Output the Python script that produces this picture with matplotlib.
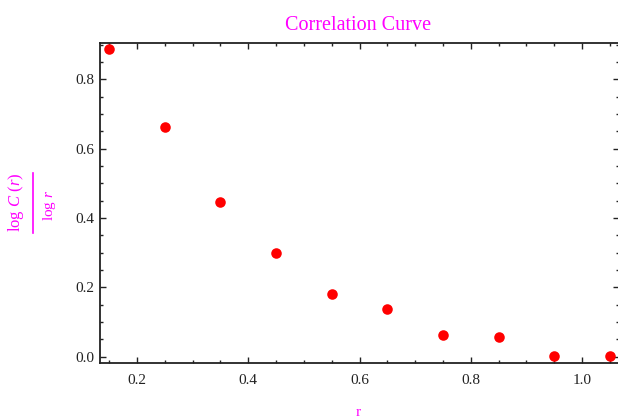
import matplotlib
matplotlib.use("Agg")
import matplotlib.pyplot as plt
from matplotlib.ticker import MultipleLocator, FormatStrFormatter
from matplotlib.lines import Line2D

plt.rcParams['font.family'] = ['Liberation Serif', 'DejaVu Serif']
plt.rcParams['mathtext.fontset'] = 'custom'
plt.rcParams['mathtext.rm'] = 'Liberation Serif'
plt.rcParams['mathtext.it'] = 'Liberation Serif:italic'

# Data
r_values = [0.15, 0.25, 0.35, 0.45, 0.55, 0.65, 0.75, 0.85, 0.95, 1.05]
corr_values = [0.888, 0.662, 0.446, 0.298, 0.180, 0.137, 0.062, 0.057, 0.001, 0.001]
title_text = "Correlation Curve"
xlabel_text = "r"
ylabel_num = r"log $C$ ($r$)"
ylabel_den = r"log $r$"

W, H = 618, 417
fig = plt.figure(figsize=(W / 100, H / 100), dpi=100)
left, right, top, bottom = 100, 619, 42.7, 363
ax = fig.add_axes([left / W, 1 - bottom / H, (right - left) / W, (bottom - top) / H])

magenta = '#FF00FF'
ax.plot(r_values, corr_values, 'o', color='#FF0000', markersize=7.6,
        markeredgewidth=0, clip_on=False, zorder=5)

ax.set_xlim(0.1334, 1.0666)
ax.set_ylim(-0.018, 0.906)

ax.xaxis.set_major_locator(MultipleLocator(0.2))
ax.xaxis.set_minor_locator(MultipleLocator(0.05))
ax.yaxis.set_major_locator(MultipleLocator(0.2))
ax.yaxis.set_minor_locator(MultipleLocator(0.05))
ax.xaxis.set_major_formatter(FormatStrFormatter('%.1f'))
ax.yaxis.set_major_formatter(FormatStrFormatter('%.1f'))

ax.tick_params(which='both', direction='in', top=True, right=True,
               color='#222222', width=1.0)
ax.tick_params(which='major', length=4)
ax.tick_params(which='minor', length=2.3)
ax.tick_params(axis='x', which='major', labelsize=11, pad=8, labelcolor='#222222')
ax.tick_params(axis='y', which='major', labelsize=11, pad=4, labelcolor='#222222')

for sp in ax.spines.values():
    sp.set_linewidth(1.3)
    sp.set_color('#222222')

# Title
fig.text(358 / W, 1 - 30 / H, title_text, color=magenta, fontsize=14.5,
         ha='center', va='baseline')
# X label
fig.text(358 / W, 1 - 412 / H, xlabel_text, color=magenta, fontsize=11,
         ha='center', va='center')
# Y label as fraction
fig.text(16 / W, 1 - 202.5 / H, ylabel_num, color=magenta, fontsize=12,
         rotation=90, ha='center', va='center')
fig.text(50 / W, 1 - 205.5 / H, ylabel_den, color=magenta, fontsize=11,
         rotation=90, ha='center', va='center')
fig.add_artist(Line2D([33 / W, 33 / W], [1 - 173 / H, 1 - 233 / H],
                      transform=fig.transFigure, color=magenta, linewidth=1.2))

fig.savefig('out.png', dpi=100)
